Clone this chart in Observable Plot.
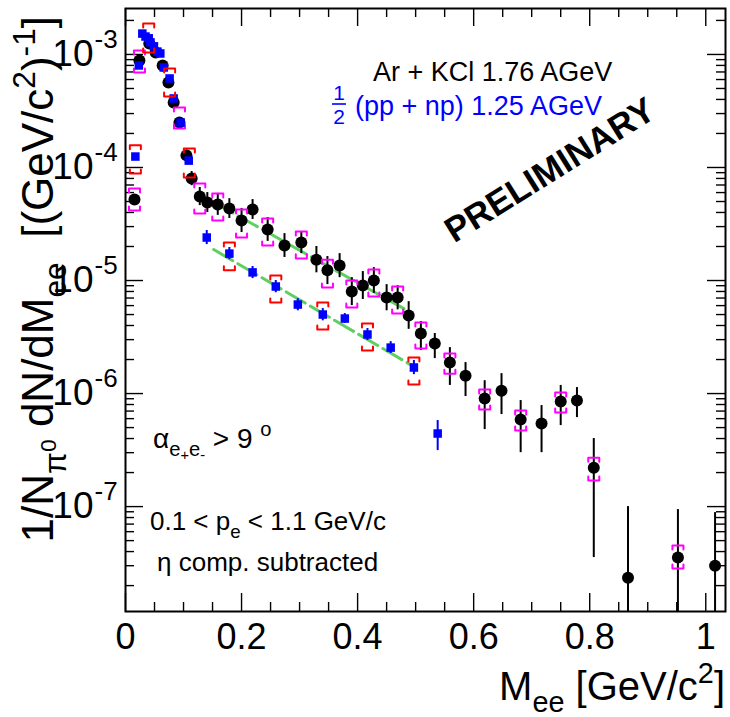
<!DOCTYPE html>
<html><head><meta charset="utf-8">
<script src="https://cdn.jsdelivr.net/npm/d3@7"></script>
<script src="https://cdn.jsdelivr.net/npm/@observablehq/plot@0.6"></script>
<style>
body{margin:0;background:#fff;}
#chart{position:relative;width:730px;height:717px;overflow:hidden;}
svg text{font-family:"Liberation Sans",Arial,Helvetica,sans-serif;}
</style></head><body><div id="chart"></div>
<script>
// ---- Ar + KCl 1.76 AGeV (black circles) ----
const arMass = [0.0155,0.024,0.041,0.052,0.064,0.074,0.083,0.093,0.105,0.114,0.128,0.141,0.159,0.179,0.200,0.219,0.245,0.274,0.303,0.329,0.348,0.369,0.390,0.409,0.428,0.450,0.469,0.488,0.509,0.533,0.559,0.586,0.619,0.648,0.681,0.717,0.750,0.778,0.807,0.866,0.952,1.016];
const arVal = [5.21e-5,8.85e-4,1.25e-3,1.04e-3,7.99e-4,5.65e-4,3.76e-4,2.50e-4,1.28e-4,7.99e-5,5.54e-5,4.90e-5,4.71e-5,4.34e-5,3.40e-5,4.25e-5,2.83e-5,2.04e-5,2.17e-5,1.53e-5,1.23e-5,1.36e-5,7.99e-6,9.03e-6,1.0e-5,7.07e-6,7.07e-6,4.90e-6,3.40e-6,2.77e-6,1.88e-6,1.44e-6,9.03e-7,1.06e-6,5.89e-7,5.43e-7,8.50e-7,8.67e-7,2.21e-7,2.35e-8,3.54e-8,3.00e-8];
const arHi = [5.54e-5,9.2e-4,1.30e-3,1.08e-3,8.5e-4,6.0e-4,4.08e-4,2.71e-4,1.41e-4,9.2e-5,6.65e-5,6.0e-5,5.9e-5,5.3e-5,4.34e-5,5.2e-5,3.61e-5,2.6e-5,2.71e-5,2.0e-5,1.63e-5,1.73e-5,1.06e-5,1.2e-5,1.3e-5,9.2e-6,9.0e-6,6.5e-6,4.34e-6,3.40e-6,2.55e-6,1.88e-6,1.30e-6,1.50e-6,8.67e-7,7.83e-7,1.18e-6,1.13e-6,4.0e-7,1.0e-7,9.41e-8,8.85e-8];
const arLo = [4.90e-5,8.5e-4,1.20e-3,1.0e-3,7.5e-4,5.3e-4,3.47e-4,2.30e-4,1.15e-4,6.9e-5,4.6e-5,4.0e-5,3.77e-5,3.54e-5,2.66e-5,3.47e-5,2.22e-5,1.6e-5,1.73e-5,1.17e-5,9.2e-6,1.06e-5,6.0e-6,6.8e-6,7.7e-6,5.4e-6,5.5e-6,3.7e-6,2.40e-6,2.04e-6,1.18e-6,9.41e-7,4.80e-7,6.52e-7,3.0e-7,3.0e-7,5.21e-7,6.13e-7,3.54e-8,1e-9,1e-9,1e-9];
const arSysMass = [0.0155,0.024,0.093,0.128,0.159,0.200,0.245,0.303,0.348,0.390,0.428,0.469,0.509,0.559,0.619,0.681,0.750,0.807,0.952];
const arSysHi = [6.52e-5,1.085e-3,3.40e-4,7.22e-5,5.89e-5,4.25e-5,3.54e-5,2.71e-5,1.53e-5,1.0e-5,1.25e-5,8.85e-6,4.25e-6,2.26e-6,1.085e-6,7.07e-7,1.02e-6,2.71e-7,4.52e-8];
const arSysLo = [4.16e-5,6.93e-4,2.21e-4,3.92e-5,3.40e-5,2.40e-5,2.04e-5,1.57e-5,8.67e-6,5.77e-6,7.22e-6,5.1e-6,2.50e-6,1.50e-6,7.22e-7,4.71e-7,6.79e-7,1.70e-7,2.83e-8];

// ---- 1/2 (pp + np) 1.25 AGeV (blue squares) ----
const ppMass = [0.017,0.023,0.029,0.0345,0.040,0.043,0.049,0.055,0.060,0.066,0.076,0.083,0.095,0.109,0.140,0.179,0.219,0.259,0.297,0.340,0.378,0.417,0.457,0.497,0.538];
const ppVal = [1.25e-4,7.99e-4,1.53e-3,1.44e-3,1.39e-3,1.28e-3,1.18e-3,1.06e-3,1.02e-3,7.67e-4,6.13e-4,4.08e-4,2.50e-4,1.15e-4,2.40e-5,1.73e-5,1.18e-5,8.85e-6,6.13e-6,5.0e-6,4.61e-6,3.33e-6,2.55e-6,1.70e-6,4.43e-7];
const ppHi = [1.33e-4,8.3e-4,1.56e-3,1.47e-3,1.42e-3,1.31e-3,1.21e-3,1.09e-3,1.05e-3,7.9e-4,6.4e-4,4.3e-4,2.6e-4,1.22e-4,2.77e-5,1.96e-5,1.33e-5,1.0e-5,6.9e-6,5.65e-6,5.1e-6,3.76e-6,2.88e-6,1.96e-6,5.77e-7];
const ppLo = [1.18e-4,7.7e-4,1.50e-3,1.41e-3,1.36e-3,1.25e-3,1.15e-3,1.03e-3,0.99e-3,7.45e-4,5.9e-4,3.9e-4,2.4e-4,1.08e-4,2.08e-5,1.53e-5,1.04e-5,7.8e-6,5.4e-6,4.4e-6,4.17e-6,2.95e-6,2.26e-6,1.47e-6,3.13e-7];
const ppSysMass = [0.017,0.040,0.076,0.110,0.179,0.259,0.340,0.417,0.497];
const ppSysHi = [1.57e-4,1.88e-3,7.52e-4,1.47e-4,2.17e-5,1.11e-5,6.39e-6,4.16e-6,2.08e-6];
const ppSysLo = [8.85e-5,1.04e-3,4.25e-4,8.15e-5,1.23e-5,6.39e-6,3.68e-6,2.40e-6,1.20e-6];

// ---- exponential fits (green dashed) ----
const fitArMass = [0.152,0.495], fitArVal = [4.93e-5,5.1e-6];
const fitPPMass = [0.152,0.497], fitPPVal = [1.88e-5,1.73e-6];

// ---- axes ----
const xTicks = [0,0.2,0.4,0.6,0.8,1];
const xTickLabels = ["0","0.2","0.4","0.6","0.8","1"];
const yTicks = [1e-7,1e-6,1e-5,1e-4,1e-3];
const yTickExp = ["-7","-6","-5","-4","-3"];

// ---- layout / style ----
const W = 730, H = 717, ML = 125, MR = 5, MT = 8, MB = 106;
const FW = W - ML - MR, FH = H - MT - MB;
const xDom = [0, 1.034], yDom = [1.18e-8, 2.55e-3];
const MAJ = 18, MIN = 9;
const BLUE = "#0000ff", MAG = "#ff00ff", RED = "#ff0000", GREEN = "#5fcf5f";
const HW = 0.0095, LEG = 1.085;

const ar = arMass.map((m,i)=>({m, v:arVal[i], lo:arLo[i], hi:arHi[i]}));
const pp = ppMass.map((m,i)=>({m, v:ppVal[i], lo:ppLo[i], hi:ppHi[i]}));
const fitAr = fitArMass.map((m,i)=>({m, v:fitArVal[i]}));
const fitPP = fitPPMass.map((m,i)=>({m, v:fitPPVal[i]}));
function brackets(mass, lo, hi, tag){
  const pts = [];
  mass.forEach((m,i)=>{
    const t = tag+"t"+i, b = tag+"b"+i;
    pts.push({m:m-HW,v:hi[i]/LEG,z:t},{m:m-HW,v:hi[i],z:t},{m:m+HW,v:hi[i],z:t},{m:m+HW,v:hi[i]/LEG,z:t});
    pts.push({m:m-HW,v:lo[i]*LEG,z:b},{m:m-HW,v:lo[i],z:b},{m:m+HW,v:lo[i],z:b},{m:m+HW,v:lo[i]*LEG,z:b});
  });
  return pts;
}
const arBr = brackets(arSysMass, arSysLo, arSysHi, "a");
const ppBr = brackets(ppSysMass, ppSysLo, ppSysHi, "p");

const xMinor = d3.range(0.05, xDom[1], 0.05).filter(v => Math.abs(v/0.2 - Math.round(v/0.2)) > 1e-6);
const yMinor = [];
for (let e = -8; e <= -3; e++) for (let k = 2; k <= 9; k++) { const v = k*Math.pow(10,e); if (v > yDom[0] && v < yDom[1]) yMinor.push(v); }

const plot = Plot.plot({
  width: W, height: H, marginLeft: ML, marginRight: MR, marginTop: MT, marginBottom: MB,
  x: {domain: xDom, axis: null},
  y: {type: "log", domain: yDom, axis: null},
  style: {fontFamily: "'Liberation Sans', Arial, sans-serif", background: "white", color: "black", overflow: "visible"},
  marks: [
    // ticks (inward, all four sides)
    Plot.tickY(yTicks, {y: d=>d, insetRight: FW-MAJ, stroke: "black", strokeWidth: 1.4}),
    Plot.tickY(yTicks, {y: d=>d, insetLeft: FW-MAJ, stroke: "black", strokeWidth: 1.4}),
    Plot.tickY(yMinor, {y: d=>d, insetRight: FW-MIN, stroke: "black", strokeWidth: 1.4}),
    Plot.tickY(yMinor, {y: d=>d, insetLeft: FW-MIN, stroke: "black", strokeWidth: 1.4}),
    Plot.tickX(xTicks, {x: d=>d, insetTop: FH-MAJ, stroke: "black", strokeWidth: 1.4}),
    Plot.tickX(xTicks, {x: d=>d, insetBottom: FH-MAJ, stroke: "black", strokeWidth: 1.4}),
    Plot.tickX(xMinor, {x: d=>d, insetTop: FH-MIN, stroke: "black", strokeWidth: 1.4}),
    Plot.tickX(xMinor, {x: d=>d, insetBottom: FH-MIN, stroke: "black", strokeWidth: 1.4}),
    // tick labels
    Plot.text(xTicks, {x: d=>d, frameAnchor: "bottom", dy: 12, lineAnchor: "top", text: (d,i)=>xTickLabels[i], fontSize: 36, fill: "black"}),
    Plot.text(yTicks, {y: d=>d, frameAnchor: "left", dx: -32, textAnchor: "end", lineAnchor: "middle", text: ()=>"10", fontSize: 37, fill: "black"}),
    Plot.text(yTicks, {y: d=>d, frameAnchor: "left", dx: -31, dy: -15, textAnchor: "start", lineAnchor: "middle", text: (d,i)=>yTickExp[i], fontSize: 26, fill: "black"}),
    // fits
    Plot.line(fitAr, {x: "m", y: "v", stroke: GREEN, strokeWidth: 3, strokeDasharray: "22,6"}),
    Plot.line(fitPP, {x: "m", y: "v", stroke: GREEN, strokeWidth: 3, strokeDasharray: "22,6"}),
    // Ar+KCl
    Plot.ruleX(ar, {x: "m", y1: "lo", y2: "hi", stroke: "black", strokeWidth: 2, clip: true}),
    Plot.dot(ar, {x: "m", y: "v", r: 6, fill: "black", stroke: "none"}),
    Plot.line(arBr, {x: "m", y: "v", z: "z", stroke: MAG, strokeWidth: 2, curve: "linear"}),
    // pp + np
    Plot.ruleX(pp, {x: "m", y1: "lo", y2: "hi", stroke: BLUE, strokeWidth: 2, clip: true}),
    Plot.dot(pp, {x: "m", y: "v", symbol: "square", r: 4.8, fill: BLUE, stroke: "none"}),
    Plot.line(ppBr, {x: "m", y: "v", z: "z", stroke: RED, strokeWidth: 2, curve: "linear"}),
    Plot.frame({stroke: "black", strokeWidth: 2})
  ]
});
document.getElementById("chart").appendChild(plot);

// ---- rich text (sub/superscripts) ----
const svg = d3.select(plot);
const CFG = {n:[0,1], sub:[0.3,0.72], sup:[-0.42,0.72], ss:[0.06,0.52], sb:[0.42,0.52]};
function rich(parts, {x=0, y=0, size, color="black", anchor="start", transform=null, weight="normal"}){
  const t = svg.append("text").attr("x", x).attr("y", y).attr("font-size", size)
    .attr("fill", color).attr("text-anchor", anchor).attr("font-weight", weight)
    .style("white-space", "pre");
  if (transform) t.attr("transform", transform);
  let cur = 0;
  parts.forEach(([s,k])=>{
    const c = CFG[k||"n"]; const off = c[0]*size;
    t.append("tspan").attr("dy", off-cur).attr("font-size", c[1]*size).text(s);
    cur = off;
  });
  return t;
}
// axis titles
rich([["M"],["ee","sub"],[" [GeV/c"],["2","sup"],["]"]], {x: 725, y: 700, size: 40, anchor: "end"});
rich([["1/N"],["π","sub"],["0","ss"],[" dN/dM"],["ee","sub"],["  [(GeV/c"],["2","sup"],[")"],["-1","sup"],["]"]],
     {size: 44, anchor: "end", transform: "translate(53,16) rotate(-90)"});
// legend-like labels
rich([["Ar + KCl 1.76 AGeV"]], {x: 373, y: 81, size: 27});
rich([["(pp + np) 1.25 AGeV"]], {x: 355, y: 115, size: 27, color: BLUE});
rich([["1"]], {x: 339, y: 100, size: 21, color: BLUE, anchor: "middle"});
rich([["2"]], {x: 339, y: 124, size: 21, color: BLUE, anchor: "middle"});
svg.append("line").attr("x1", 332).attr("x2", 346).attr("y1", 104).attr("y2", 104).attr("stroke", BLUE).attr("stroke-width", 1.6);
// PRELIMINARY
rich([["PRELIMINARY"]], {size: 35, weight: "bold", anchor: "middle", transform: "translate(556,180) rotate(-32)"});
// cuts
rich([["α"],["e","sub"],["+","sb"],["e","sub"],["-","sb"],[" > 9 "],["o","sup"]], {x: 153, y: 448, size: 28});
rich([["0.1 < p"],["e","sub"],[" < 1.1 GeV/c"]], {x: 150, y: 530, size: 26});
rich([["η comp. subtracted"]], {x: 157, y: 571, size: 26});
</script></body></html>
